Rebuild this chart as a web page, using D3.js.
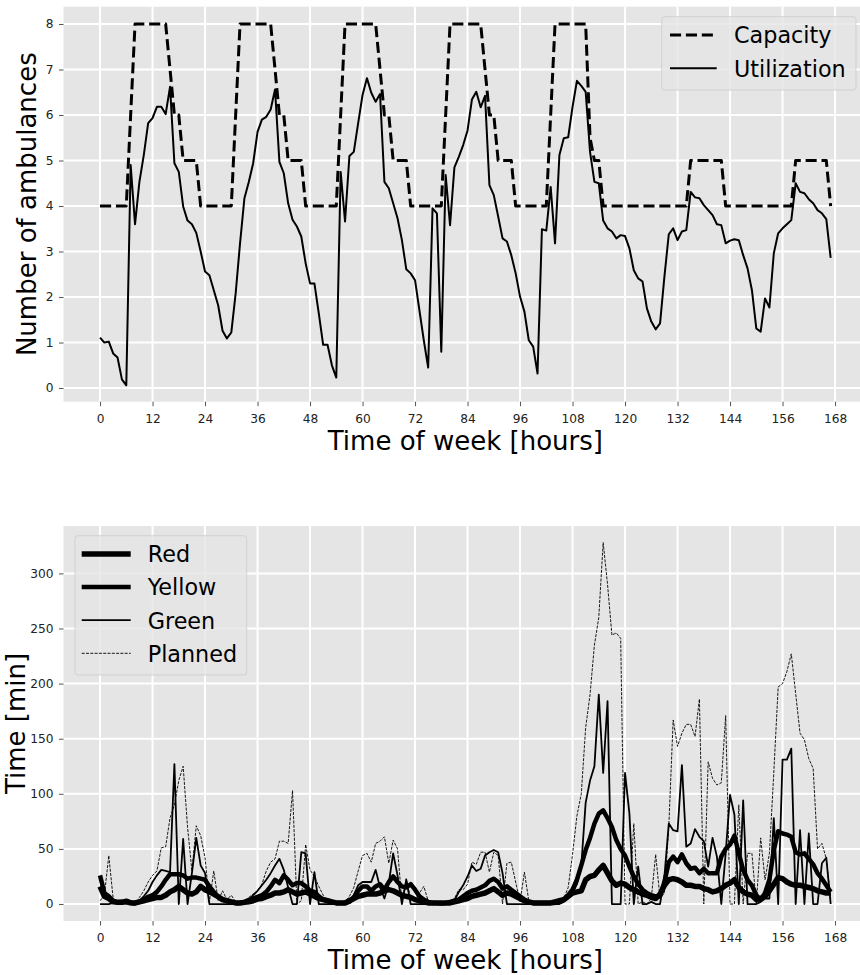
<!DOCTYPE html>
<html>
<head>
<meta charset="utf-8">
<script src="https://cdn.jsdelivr.net/npm/d3@7"></script>
<style>
  html, body { margin: 0; padding: 0; background: #fff; }
  svg { display: block; }
  text { font-family: "DejaVu Sans", sans-serif; }
</style>
</head>
<body>
<svg id="chart" width="860" height="975"></svg>
<script>
// ---------------- DATA ----------------
const hours = d3.range(168);
const xTicks = [0, 12, 24, 36, 48, 60, 72, 84, 96, 108, 120, 132, 144, 156, 168];
const topYTicks = [0, 1, 2, 3, 4, 5, 6, 7, 8];
const bottomYTicks = [0, 50, 100, 150, 200, 250, 300];

const capacity = [
  4,4,4,4,4,4,4,6,8,8,8,8,8,8,8,8,7,6,6,5,5,5,5,4,
  4,4,4,4,4,4,4,6,8,8,8,8,8,8,8,8,7,6,6,5,5,5,5,4,
  4,4,4,4,4,4,4,6,8,8,8,8,8,8,8,8,7,6,6,5,5,5,5,4,
  4,4,4,4,4,4,4,6,8,8,8,8,8,8,8,8,7,6,6,5,5,5,5,4,
  4,4,4,4,4,4,4,6,8,8,8,8,8,8,8,8,5.5,5,5,4,4,4,4,4,
  4,4,4,4,4,4,4,4,4,4,4,4,4,4,4,5,5,5,5,5,5,5,5,4,
  4,4,4,4,4,4,4,4,4,4,4,4,4,4,4,5,5,5,5,5,5,5,5,4
];

const utilization = [
  1.11,1.0,1.02,0.76,0.67,0.19,0.06,4.9,3.6,4.53,5.12,5.82,5.93,6.18,6.18,6.02,6.62,4.94,4.75,3.99,3.68,3.6,3.41,3.0,
  2.56,2.48,2.15,1.82,1.26,1.09,1.22,2.08,3.18,4.17,4.53,4.94,5.63,5.9,5.96,6.12,6.56,4.97,4.72,4.06,3.7,3.55,3.33,2.74,
  2.3,2.3,1.64,0.95,0.95,0.5,0.23,4.75,3.66,5.1,5.19,5.82,6.44,6.81,6.49,6.29,6.46,4.53,4.39,4.06,3.73,3.25,2.61,2.52,
  2.37,1.71,1.05,0.45,3.95,3.84,0.8,4.68,3.58,4.85,5.08,5.34,5.66,6.34,6.51,6.17,6.42,4.46,4.24,3.77,3.29,3.22,2.92,2.52,
  2.01,1.68,1.05,0.91,0.32,3.49,3.46,4.42,3.18,5.12,5.49,5.51,6.18,6.75,6.64,6.51,5.19,4.53,4.5,3.68,3.51,3.44,3.29,3.36,
  3.34,3.07,2.59,2.41,2.34,1.75,1.46,1.29,1.42,2.45,3.38,3.51,3.25,3.44,3.47,4.31,4.19,4.17,4.02,3.91,3.8,3.6,3.58,3.18,
  3.24,3.27,3.25,2.92,2.63,2.15,1.31,1.24,1.97,1.77,2.96,3.4,3.51,3.6,3.69,4.5,4.31,4.28,4.15,4.06,3.91,3.84,3.71,2.86
];

const red = [
  16,7,5,2,1.5,1.5,2,1,1,2,3,4,5,6,6,8,11,13,16,13,10,9,11,16,
  13,11,9,6.6,4,3,2,1,1,1.5,2,3,4.5,5,6.6,8,10,10,11,13,11,9,10,11,
  9,7,5,4,3,2,1,1,1,3,5,7,8,9,9,9,10,12,13,12,10,8,7,6,
  4,3,2,1,1,1,1,1,1,2,3,4,5,7,8,9,10,12,14,11,8,10,9,7,
  5,3,2,1,1,1,1,1,2,3,4,7,10,11,12,22,25,26,31,35,28,21,17,19,
  18,15,13,11,9,8,6,5,9,17,22,23,22,20,17,17,16,16,14,13,11,12,14,17,
  19,22,15,11,9,8,4,5,7,12,18,24,23,20,18,17,17,16,15,14,12,11,10,10
];

const yellow = [
  26,10,7,3,1.5,2,3,1.5,0.5,2,4,6.6,8,11,16,22,27,27,27,26,23,24,24,23,
  22,16,11,6.6,4,3,2,1,1,2,3.6,5,6.6,8,11,16,22,19,26,22,17,19,19,16,
  12,11,7,4,3,2,1,1,1,2,6,12,16,16,12,16,18,13,20,25,20,16,15,18,
  13,7,4,2,1,1,0.5,1,2,3,4,7,10,12,13,15,17,21,23,20,14,16,13,10,
  7,4,2,1,1,1,1,1,1,2,4,8,13,22,35,49,60,73,82,85,78,70,58,50,
  44,34,25,18,13,10,8,7,7,20,38,43,38,45,37,32,33,28,32,28,28,28,43,50,
  54,62,46,31,22,17,8,4,10,22,49,66,64,63,61,47,45,46,41,36,28,23,17,11
];

const green = [
  0,0,0,1,1,1,1,0,0,3,7,12,20,26,31,30,29,127,0,59,0,28,60,35,
  28,0,0,0,0,0,0,0,0,1,4,8,12,17,22,28,35,41,31,15,0,0,47,46,
  0,29,0,0,0,0,0,0,0,2,8,17,20,20,20,31,15,5,19,46,26,0,22,0,
  0,0,0,0,0,0,0,0,1,3,11,17,25,35,30,32,44,47,49,47,28,0,0,0,
  0,0,0,0,0,0,0,0,0,0,2,5,10,18,35,92,112,125,190,119,184,0,0,0,
  119,82,0,34,0,0,2,0,0,25,73,67,66,126,52,55,68,61,57,34,60,43,0,46,
  99,81,0,94,0,0,0,2,5,5,78,0,131,131,141,0,67,0,64,0,0,37,42,0
];

const planned = [
  3,8,44,5,2,1,1,0,0,6,12,20,26,30,51,52,78,90,112,125,70,30,71,62,
  42,2,30,3,12,4,8,2,2,3,6,9,12,18,30,38,41,57,57,55,103,0,3,54,
  31,25,16,8,3,1,0,0,2,7,15,30,44,46,38,55,57,61,37,58,50,2,23,5,
  5,10,16,3,1,0,0,0,2,5,13,13,18,38,36,47,47,29,47,44,0,37,38,20,
  2,29,3,1,0,0,0,0,1,1,5,15,45,80,100,160,190,235,260,328,290,244,246,241,
  0,0,73,0,2,0,5,45,5,10,70,167,143,155,163,163,152,186,0,129,114,108,110,171,
  0,0,90,0,46,46,0,60,22,46,119,197,200,211,227,191,155,149,132,123,50,55,41,5
];

// ---------------- LAYOUT ----------------
const svg = d3.select("#chart");
const BG = "#E5E5E5";
const x = d3.scaleLinear().domain([-8.35, 175.35]).range([63.5, 867.2]);

const panels = [
  { id: "top", y: d3.scaleLinear().domain([-0.3, 8.38]).range([401.7, 6.7]),
    yTicks: topYTicks, ylabel: "Number of ambulances", ylabelX: 36 },
  { id: "bot", y: d3.scaleLinear().domain([-15.4, 343]).range([921, 526]),
    yTicks: bottomYTicks, ylabel: "Time [min]", ylabelX: 25 }
];

panels.forEach(p => {
  const [yb, yt] = p.y.range();
  const [xl, xr] = x.range();
  const g = svg.append("g");
  g.append("rect").attr("x", xl).attr("y", yt).attr("width", xr - xl).attr("height", yb - yt).attr("fill", BG);
  svg.append("clipPath").attr("id", "clip-" + p.id)
    .append("rect").attr("x", xl).attr("y", yt).attr("width", xr - xl).attr("height", yb - yt);
  // grid
  g.selectAll(".vg").data(xTicks).join("line")
    .attr("x1", d => x(d)).attr("x2", d => x(d)).attr("y1", yt).attr("y2", yb)
    .attr("stroke", "#fff").attr("stroke-width", 2);
  g.selectAll(".hg").data(p.yTicks).join("line")
    .attr("x1", xl).attr("x2", xr).attr("y1", d => p.y(d)).attr("y2", d => p.y(d))
    .attr("stroke", "#fff").attr("stroke-width", 2);
  // x axis
  const xa = g.append("g").attr("transform", `translate(0,${yb})`)
    .call(d3.axisBottom(x).tickValues(xTicks).tickSize(4.5).tickPadding(8));
  xa.select(".domain").remove();
  xa.selectAll("line").attr("stroke", "#555");
  xa.selectAll("text").attr("font-size", "12.2px").attr("fill", "#222")
    .attr("font-family", "DejaVu Sans").attr("dy", "0.71em");
  // y axis
  const ya = g.append("g").attr("transform", `translate(${xl},0)`)
    .call(d3.axisLeft(p.y).tickValues(p.yTicks).tickSize(4.5).tickPadding(5.5));
  ya.select(".domain").remove();
  ya.selectAll("line").attr("stroke", "#555");
  ya.selectAll("text").attr("font-size", "12.2px").attr("fill", "#222")
    .attr("font-family", "DejaVu Sans");
  // labels
  g.append("text").attr("x", (xl + xr) / 2).attr("y", yb + 48.3)
    .attr("text-anchor", "middle").attr("font-size", "26px").attr("fill", "#000")
    .text("Time of week [hours]");
  g.append("text")
    .attr("transform", `translate(${p.ylabelX},${(yt + yb) / 2}) rotate(-90)`)
    .attr("text-anchor", "middle").attr("font-size", "26px").attr("fill", "#000")
    .text(p.ylabel);
  p.g = g;
});

// ---------------- TOP PANEL ----------------
const yTop = panels[0].y;
const topG = panels[0].g.append("g").attr("clip-path", "url(#clip-top)");
const lineTop = series => d3.line().x((d, i) => x(hours[i])).y(d => yTop(d))(series);

topG.append("path").attr("d", lineTop(capacity)).attr("fill", "none")
  .attr("stroke", "#000").attr("stroke-width", 3).attr("stroke-dasharray", "11.1,4.8")
  .attr("stroke-linejoin", "round");
topG.append("path").attr("d", lineTop(utilization)).attr("fill", "none")
  .attr("stroke", "#000").attr("stroke-width", 2).attr("stroke-linejoin", "round");

// top legend
const lt = svg.append("g");
lt.append("rect").attr("x", 661.7).attr("y", 16.7).attr("width", 194.3).attr("height", 73.3)
  .attr("rx", 3).attr("fill", BG).attr("fill-opacity", 0.8)
  .attr("stroke", "#cccccc").attr("stroke-opacity", 0.8);
const topLegend = [
  { name: "Capacity", w: 3, dash: "11.1,4.8" },
  { name: "Utilization", w: 2, dash: null }
];
topLegend.forEach((d, i) => {
  const yy = 35 + i * 33.3;
  lt.append("line").attr("x1", 670).attr("x2", 716.7).attr("y1", yy).attr("y2", yy)
    .attr("stroke", "#000").attr("stroke-width", d.w)
    .attr("stroke-dasharray", d.dash);
  lt.append("text").attr("x", 734).attr("y", yy + 8.2).attr("font-size", "22.3px")
    .attr("fill", "#000").text(d.name);
});

// ---------------- BOTTOM PANEL ----------------
const yBot = panels[1].y;
const botG = panels[1].g.append("g").attr("clip-path", "url(#clip-bot)");
const lineBot = series => d3.line().x((d, i) => x(hours[i])).y(d => yBot(d))(series);

const botSeries = [
  { name: "Red", data: red, w: 5.5, dash: null },
  { name: "Yellow", data: yellow, w: 4.5, dash: null },
  { name: "Green", data: green, w: 1.8, dash: null },
  { name: "Planned", data: planned, w: 0.9, dash: "3,1.3" }
];
botSeries.forEach(s => {
  botG.append("path").attr("d", lineBot(s.data)).attr("fill", "none")
    .attr("stroke", "#000").attr("stroke-width", s.w).attr("stroke-linejoin", "round")
    .attr("stroke-dasharray", s.dash);
});

// bottom legend
const lb = svg.append("g");
lb.append("rect").attr("x", 75).attr("y", 535.7).attr("width", 171.7).attr("height", 139.3)
  .attr("rx", 3).attr("fill", BG).attr("fill-opacity", 0.8)
  .attr("stroke", "#cccccc").attr("stroke-opacity", 0.8);
botSeries.forEach((s, i) => {
  const yy = 554 + i * 33.1;
  lb.append("line").attr("x1", 81.7).attr("x2", 130.7).attr("y1", yy).attr("y2", yy)
    .attr("stroke", "#000").attr("stroke-width", s.w).attr("stroke-dasharray", s.dash);
  lb.append("text").attr("x", 147.7).attr("y", yy + 8.3).attr("font-size", "22.3px")
    .attr("fill", "#000").text(s.name);
});
</script>
</body>
</html>
